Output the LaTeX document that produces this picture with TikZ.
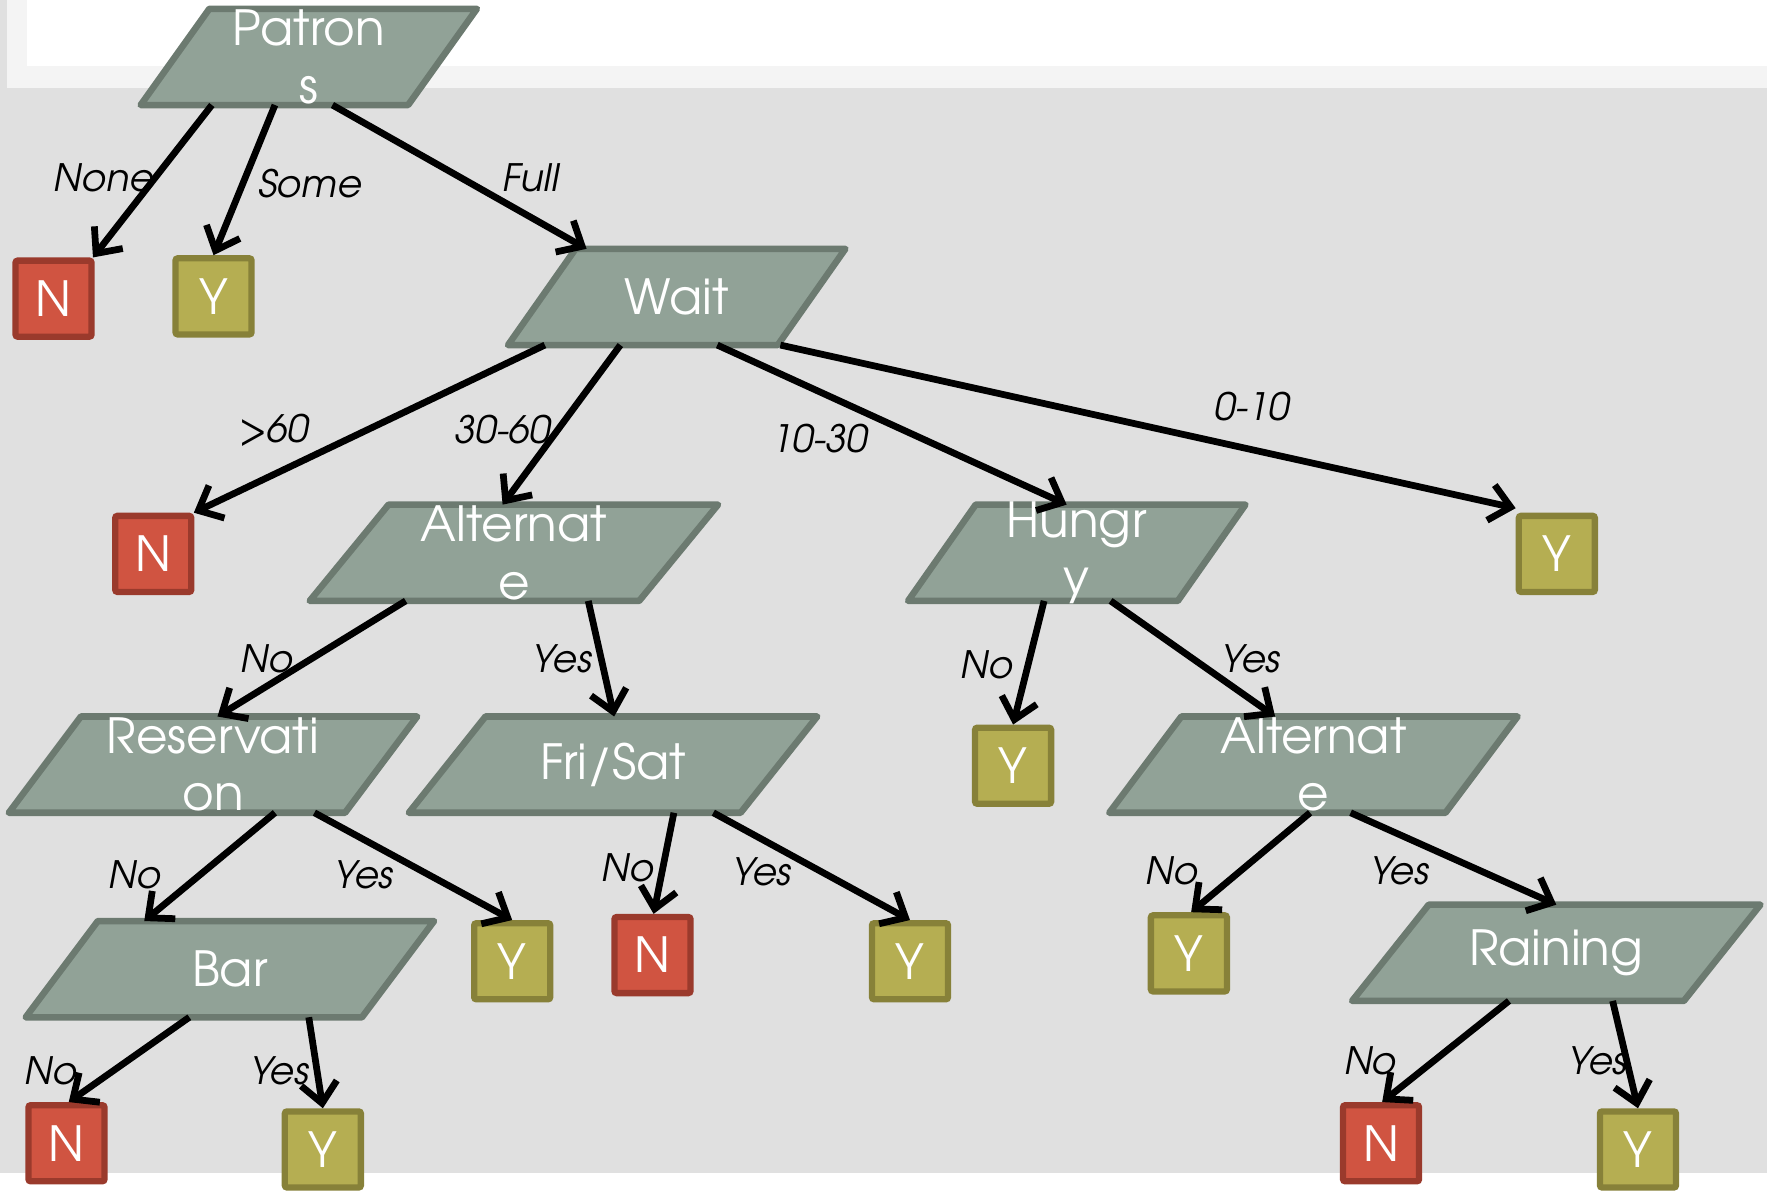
\documentclass[tikz,border=0pt]{standalone}
\usepackage{fontspec}
\setmainfont{TeX Gyre Adventor}
\usetikzlibrary{arrows.meta}

\definecolor{pagegrey}{HTML}{E0E0E0}
\definecolor{stripgrey}{HTML}{F4F4F4}
\definecolor{decfill}{HTML}{91A297}
\definecolor{decline}{HTML}{6C7A70}
\definecolor{nofill}{HTML}{D05441}
\definecolor{noline}{HTML}{9A3A2C}
\definecolor{yesfill}{HTML}{B5AE52}
\definecolor{yesline}{HTML}{878139}

\pgfdeclarelayer{bg}
\pgfdeclarelayer{shapes}
\pgfsetlayers{bg,shapes,main}

% fixed-size text box for the decision parallelograms
\newcommand\decbox[2]{\parbox[c][85pt][c]{#1}{\centering #2}}

\tikzset{
  dec/.style={inner sep=0pt, text=white, font=\fontsize{43}{51}\selectfont},
  decshape/.style={fill=decfill, draw=decline, line width=5.8pt, line join=round},
  leaf/.style={line width=5.6pt, minimum size=67.5pt, inner sep=0pt, rounded corners=2pt,
    text=white, font=\fontsize{43}{46}\selectfont},
  nleaf/.style={leaf, draw=noline, fill=nofill},
  yleaf/.style={leaf, draw=yesline, fill=yesfill},
  lab/.style={inner sep=0pt, text=black, font=\fontsize{33.5}{36}\selectfont\itshape},
  conn/.style={line width=6pt, line cap=butt, -{Straight Barb[length=18pt,width=32pt]}}
}

\begin{document}
\begin{tikzpicture}[x=1pt,y=-1pt]
\useasboundingbox (0,0) rectangle (1568,1059);

% page background
\begin{pgfonlayer}{bg}
  \fill[white] (0,0) rectangle (1568,1059);
  \fill[pagegrey] (0,0) rectangle (1568,1041);
  \fill[stripgrey] (6,0) rectangle (1568,78);
  \fill[white] (24,0) rectangle (1568,58.6);
\end{pgfonlayer}

% decision nodes
\node[dec] (pat)  at (274,50.5)    {\decbox{298pt}{Patron\\s}};
\node[dec] (wait) at (600.5,263.5) {\decbox{299pt}{Wait}};
\node[dec] (alt1) at (456,490.5)   {\decbox{362pt}{Alternat\\e}};
\node[dec] (hun)  at (955.5,490.5) {\decbox{299pt}{Hungr\\y}};
\node[dec] (res)  at (189,678.5)   {\decbox{362pt}{Reservati\\on}};
\node[dec] (fri)  at (544,678.5)   {\decbox{362pt}{Fri/Sat}};
\node[dec] (alt2) at (1165.5,678.5){\decbox{362pt}{Alternat\\e}};
\node[dec] (bar)  at (204,860)     {\decbox{362pt}{Bar}};
\node[dec] (rain) at (1381,845.5)  {\decbox{362pt}{Raining}};

% parallelogram outlines behind the decision texts
\begin{pgfonlayer}{shapes}
  \foreach \n/\s in {pat/61,wait/60,hun/60,alt1/70,res/64,fri/68,alt2/64,bar/64,rain/68}
    \draw[decshape] ([xshift=\s pt]\n.north west) -- (\n.north east)
      -- ([xshift=-\s pt]\n.south east) -- (\n.south west) -- cycle;
\end{pgfonlayer}

% leaves
\node[nleaf] (n1)    at (47.5,265)    {N};
\node[yleaf] (y1)    at (189.5,263)   {Y};
\node[nleaf] (n2)    at (136,491.5)   {N};
\node[yleaf] (y010)  at (1381.5,491.5){Y};
\node[yleaf] (yhun)  at (899,679.5)   {Y};
\node[yleaf] (yres)  at (454.5,853)   {Y};
\node[nleaf] (nfri)  at (579,847.5)   {N};
\node[yleaf] (yfri)  at (807.5,853)   {Y};
\node[yleaf] (yalt2) at (1055,846)    {Y};
\node[nleaf] (nbar)  at (59,1014.5)   {N};
\node[yleaf] (ybar)  at (286.5,1020)  {Y};
\node[nleaf] (nrain) at (1225.5,1014.5){N};
\node[yleaf] (yrain) at (1453.5,1020) {Y};

% branch labels
\node[lab] (lnone)  at (92,158)   {None};
\node[lab] (lsome)  at (275,163)  {Some};
\node[lab] (lfull)  at (471,158)  {Full};
\node[lab] (lgt60)  at (243,382)  {>60};
\node[lab] (l3060)  at (446,381)  {30-60};
\node[lab] (l1030)  at (727,389)  {10-30};
\node[lab] (l010)   at (1111,361) {0-10};
\node[lab] (la1no)  at (237,585)  {No};
\node[lab] (la1yes) at (499,585)  {Yes};
\node[lab] (lhno)   at (876,590)  {No};
\node[lab] (lhyes)  at (1110,585) {Yes};
\node[lab] (lrno)   at (120,776)  {No};
\node[lab] (lryes)  at (323,776)  {Yes};
\node[lab] (lfno)   at (557,770)  {No};
\node[lab] (lfyes)  at (676,774)  {Yes};
\node[lab] (la2no)  at (1040,773) {No};
\node[lab] (la2yes) at (1242,773) {Yes};
\node[lab] (lbno)   at (45,950)   {No};
\node[lab] (lbyes)  at (248,950)  {Yes};
\node[lab] (lrnno)  at (1216,941) {No};
\node[lab] (lrnyes) at (1418,941) {Yes};

% connectors
\draw[conn] ([xshift=-86pt]pat.south)   -- ([xshift=35pt]n1.north);
\draw[conn] ([xshift=-30pt]pat.south)   -- (y1.north);
\draw[conn] ([xshift=21pt]pat.south)    -- ([xshift=-80pt]wait.north);
\draw[conn] ([xshift=-117pt]wait.south) -- ([xshift=36pt]n2.north);
\draw[conn] ([xshift=-50pt]wait.south)  -- ([xshift=-10pt]alt1.north);
\draw[conn] ([xshift=36pt]wait.south)   -- ([xshift=-9pt]hun.north);
\draw[conn] ([xshift=92pt]wait.south)   -- ([yshift=4pt]y010.north west);
\draw[conn] ([xshift=-96pt]alt1.south)  -- ([xshift=4pt]res.north);
\draw[conn] ([xshift=66pt]alt1.south)   -- ([xshift=1pt]fri.north);
\draw[conn] ([xshift=-29pt]hun.south)   -- (yhun.north);
\draw[conn] ([xshift=30pt]hun.south)    -- ([xshift=-34pt]alt2.north);
\draw[conn] ([xshift=55pt]res.south)    -- ([xshift=-76pt]bar.north);
\draw[conn] ([xshift=90pt]res.south)    -- (yres.north);
\draw[conn] ([xshift=54pt]fri.south)    -- ([xshift=1pt]nfri.north);
\draw[conn] ([xshift=89pt]fri.south)    -- (yfri.north);
\draw[conn] ([xshift=-3pt]alt2.south)   -- ([xshift=2pt]yalt2.north);
\draw[conn] ([xshift=33pt]alt2.south)   -- (rain.north);
\draw[conn] ([xshift=-36pt]bar.south)   -- ([xshift=2pt]nbar.north);
\draw[conn] ([xshift=70pt]bar.south)    -- (ybar.north);
\draw[conn] ([xshift=-42pt]rain.south)  -- ([xshift=1pt]nrain.north);
\draw[conn] ([xshift=50pt]rain.south)   -- (yrain.north);
\end{tikzpicture}
\end{document}
